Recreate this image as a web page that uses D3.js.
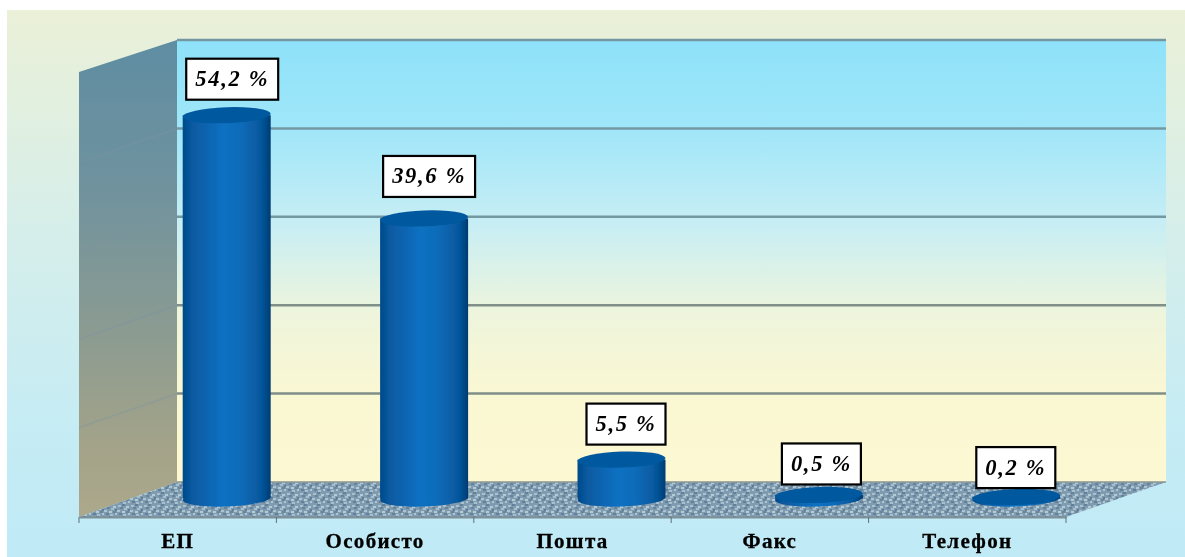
<!DOCTYPE html>
<html>
<head>
<meta charset="utf-8">
<script src="https://cdn.jsdelivr.net/npm/d3@7"></script>
<style>
  html, body { margin: 0; padding: 0; background: #fff; overflow: hidden; }
  svg { display: block; }
  .cat { font: bold 21px "Liberation Serif", serif; letter-spacing: 1.3px; fill: #000; stroke: #000; stroke-width: 0.3px; text-anchor: middle; }
  .val { font: italic bold 22.5px "Liberation Serif", serif; letter-spacing: 1.7px; fill: #000; text-anchor: middle; }
</style>
</head>
<body>
<div id="chart"></div>
<script>
// Chart data
const categories = ["ЕП", "Особисто", "Пошта", "Факс", "Телефон"];
const values = [54.2, 39.6, 5.5, 0.5, 0.2];
const valueLabels = ["54,2 %", "39,6 %", "5,5 %", "0,5 %", "0,2 %"];
const gridSteps = [0, 1, 2, 3, 4, 5];

const width = 1185, height = 557;

// Box of the 3D plot: front plane and back wall
const front = { left: 79, right: 1066, bottom: 517, top: 72 };
const back = { left: 177, right: 1166, bottom: 482, top: 40 };
const depthX = back.left - front.left;

const svg = d3.select("#chart").append("svg")
    .attr("width", width)
    .attr("height", height);

const defs = svg.append("defs");

function addGradient(id, stops, horizontal) {
    const g = defs.append("linearGradient")
        .attr("id", id)
        .attr("x1", 0).attr("y1", 0)
        .attr("x2", horizontal ? 1 : 0).attr("y2", horizontal ? 0 : 1);
    stops.forEach(s => g.append("stop").attr("offset", s[0]).attr("stop-color", s[1]));
}

addGradient("pageBg", [[0, "#ebf0d8"], [0.12, "#e4f0dd"], [0.4, "#d6eeea"], [0.75, "#c6ecf4"], [1, "#bfeaf6"]]);
addGradient("backWall", [[0, "#8ee2f9"], [0.2, "#a0e6f9"], [0.42, "#c8eef4"], [0.62, "#eef5dc"], [0.8, "#faf7d3"], [1, "#fbf8d2"]]);
addGradient("sideWall", [[0, "#5f8da2"], [0.3, "#6f929e"], [0.6, "#8a9b92"], [0.85, "#a3a389"], [1, "#aca88b"]]);
addGradient("barBody", [[0, "#054a8a"], [0.1, "#07599f"], [0.45, "#0a70c2"], [0.65, "#0a6cba"], [0.9, "#06569b"], [1, "#033c72"]], true);

// Speckled floor texture
const floorDots = [
    [1, 1, "#a8c0ce"], [5, 0, "#64809a"], [9, 2, "#b4cad4"], [3, 3, "#68849c"],
    [7, 4, "#a4bece"], [11, 5, "#607c96"], [0, 6, "#acc4d0"], [5, 7, "#b6cad4"],
    [9, 7, "#6a859e"], [2, 9, "#64809a"], [6, 10, "#a8c0ce"], [11, 9, "#b0c6d2"]
];
const floorPat = defs.append("pattern")
    .attr("id", "floorTex")
    .attr("patternUnits", "userSpaceOnUse")
    .attr("width", 13).attr("height", 12);
floorPat.append("rect").attr("width", 13).attr("height", 12).attr("fill", "#7f9bb0");
floorPat.selectAll("rect.dot")
    .data(floorDots)
    .enter().append("rect")
    .attr("class", "dot")
    .attr("x", d => d[0]).attr("y", d => d[1])
    .attr("width", 3).attr("height", 2)
    .attr("fill", d => d[2]);

// Soft look of the original picture
defs.append("filter").attr("id", "soft")
    .attr("filterUnits", "userSpaceOnUse")
    .attr("x", 0).attr("y", 0).attr("width", width).attr("height", height)
    .append("feGaussianBlur").attr("stdDeviation", 0.5);

const root = svg.append("g").attr("filter", "url(#soft)");

root.append("rect")
    .attr("x", 7).attr("y", 10)
    .attr("width", width - 7).attr("height", height - 10)
    .attr("fill", "url(#pageBg)");

// Scales
const x = d3.scaleBand().domain(categories).range([front.left, front.right]);
const y = d3.scaleLinear().domain([0, 62.5]).range([498.5, 56.5]);
const wall = d3.scaleLinear().domain([0, 5]).range([back.bottom, back.top]);
const line = d3.line();

// Walls and floor
root.append("rect")
    .attr("x", back.left).attr("y", back.top)
    .attr("width", back.right - back.left).attr("height", back.bottom - back.top)
    .attr("fill", "url(#backWall)");

root.append("path")
    .attr("d", line([[front.left, front.top], [back.left, back.top], [back.left, back.bottom], [front.left, front.bottom]]) + "Z")
    .attr("fill", "url(#sideWall)");

root.append("path")
    .attr("d", line([[back.left, back.bottom], [back.right, back.bottom], [front.right, front.bottom], [front.left, front.bottom]]) + "Z")
    .attr("fill", "url(#floorTex)");

// Grid lines on the back wall and the side wall
root.selectAll(".grid")
    .data(gridSteps.slice(1))
    .enter().append("line")
    .attr("class", "grid")
    .attr("x1", back.left).attr("x2", back.right)
    .attr("y1", d => wall(d)).attr("y2", d => wall(d))
    .attr("stroke", d => d < 3 ? "#808f88" : "#7398a2")
    .attr("stroke-width", 2.5);

root.selectAll(".sideGrid")
    .data(gridSteps.slice(1, 5))
    .enter().append("line")
    .attr("class", "sideGrid")
    .attr("x1", back.left).attr("x2", front.left)
    .attr("y1", d => wall(d)).attr("y2", d => wall(d) + 34)
    .attr("stroke", "#7d93a2")
    .attr("stroke-width", 2)
    .attr("opacity", 0.35);

root.append("line")
    .attr("x1", back.left).attr("x2", back.right)
    .attr("y1", back.bottom).attr("y2", back.bottom)
    .attr("stroke", "#8a9590").attr("stroke-width", 1.5);

// Category axis along the front of the floor
const axisG = root.append("g").attr("transform", `translate(0,${front.bottom})`);
axisG.call(d3.axisBottom(x).tickSize(0).tickPadding(16));
axisG.select(".domain").attr("stroke", "#7e8f98").attr("stroke-width", 2);
axisG.selectAll("text").attr("class", "cat").attr("font-size", null).attr("font-family", null);

axisG.selectAll(".edgeTick")
    .data(d3.range(categories.length + 1))
    .enter().append("line")
    .attr("class", "edgeTick")
    .attr("x1", i => front.left + i * x.step()).attr("x2", i => front.left + i * x.step())
    .attr("y1", 0).attr("y2", 6)
    .attr("stroke", "#5f7078");

// Cylinders stand half way into the floor
const barW = 88, ry = 8;
const barX = c => x(c) + x.bandwidth() / 2 + depthX / 2;
// offsets of the value boxes from the top of each cylinder
const labelGap = [7.5, 13.5, 7, 2.5, 1];
const labelShift = [5.5, 5, 4.5, 2.5, -0.5];

const bar = root.selectAll(".bar")
    .data(categories)
    .enter().append("g")
    .attr("class", "bar")
    .attr("transform", c => `translate(${barX(c)},0)`);

bar.append("ellipse")
    .attr("cx", 0).attr("cy", y(0))
    .attr("rx", barW / 2).attr("ry", ry)
    .attr("transform", `rotate(-2 0 ${y(0)})`)
    .attr("fill", "url(#barBody)");

bar.append("rect")
    .attr("x", -barW / 2).attr("width", barW)
    .attr("y", (c, i) => y(values[i]))
    .attr("height", (c, i) => y(0) - y(values[i]))
    .attr("fill", "url(#barBody)");

bar.append("ellipse")
    .attr("cx", 0).attr("cy", (c, i) => y(values[i]))
    .attr("rx", barW / 2).attr("ry", ry)
    .attr("transform", (c, i) => `rotate(-2 0 ${y(values[i])})`)
    .attr("fill", "#05599f");

// Value boxes
const boxH = 41;
const valueBox = root.selectAll(".valueBox")
    .data(categories)
    .enter().append("g")
    .attr("class", "valueBox")
    .attr("transform", (c, i) => `translate(${barX(c) + labelShift[i]},${y(values[i]) - ry - labelGap[i] - boxH})`);

valueBox.append("rect")
    .attr("y", 0).attr("height", boxH)
    .attr("fill", "#fff")
    .attr("stroke", "#000")
    .attr("stroke-width", 2.2);

valueBox.append("text")
    .attr("class", "val")
    .attr("x", 0).attr("y", 27.5)
    .text((c, i) => valueLabels[i]);

valueBox.each(function () {
    const w = d3.select(this).select("text").node().getComputedTextLength() + 18;
    d3.select(this).select("rect").attr("x", -w / 2).attr("width", w);
});
</script>
</body>
</html>
